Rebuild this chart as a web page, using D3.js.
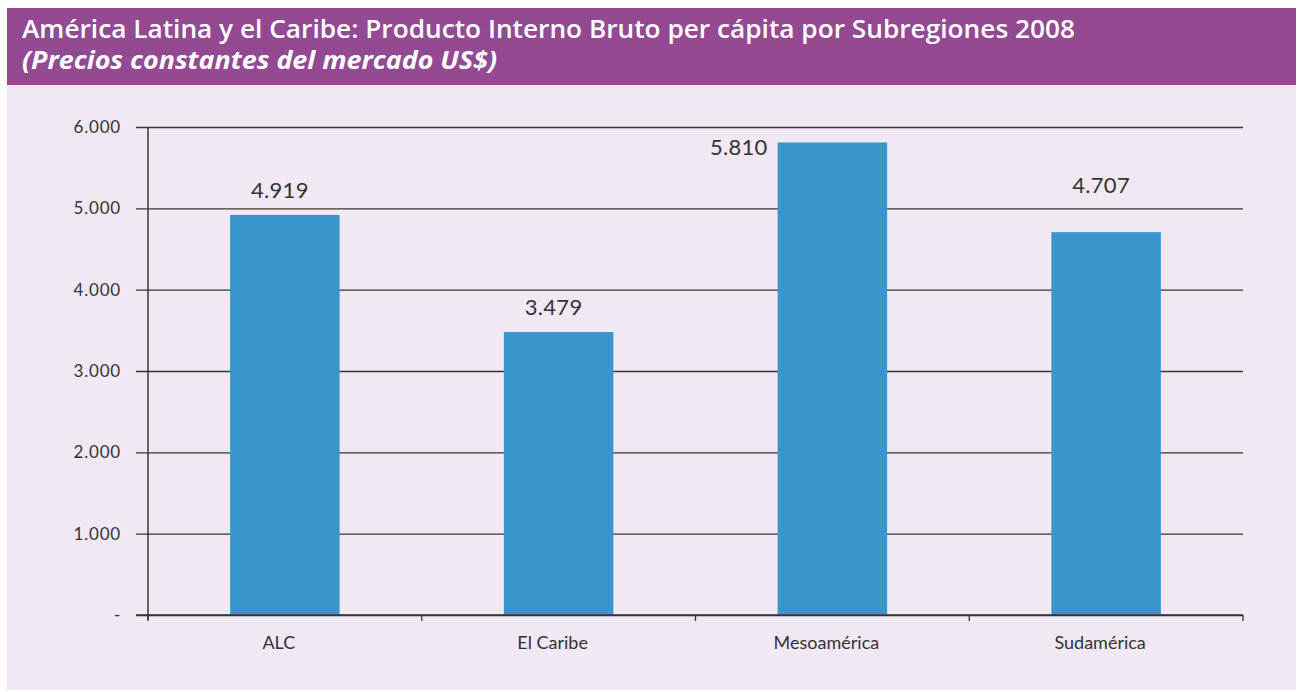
<!DOCTYPE html>
<html><head><meta charset="utf-8">
<script src="https://cdn.jsdelivr.net/npm/d3@7"></script>
<style>body{margin:0;background:#fff}svg{display:block}</style>
</head><body>
<svg id="c" width="1304" height="692"></svg>
<script>
const categories = ["ALC", "El Caribe", "Mesoamérica", "Sudamérica"];
const values = [4919, 3479, 5810, 4707];
const valueLabels = ["4.919", "3.479", "5.810", "4.707"];
const yTicks = [0, 1000, 2000, 3000, 4000, 5000, 6000];
const yTickLabels = ["-", "1.000", "2.000", "3.000", "4.000", "5.000", "6.000"];
const title = "América Latina y el Caribe: Producto Interno Bruto per cápita por Subregiones 2008";
const subtitle = "(Precios constantes del mercado US$)";

const svg = d3.select("#c");
svg.append("rect").attr("x", 7).attr("y", 84).attr("width", 1289).attr("height", 606).attr("fill", "#F0E9F4");
svg.append("rect").attr("x", 7).attr("y", 8).attr("width", 1289).attr("height", 77).attr("fill", "#934A93");
const tFont = "'Open Sans', sans-serif";
svg.append("text").attr("x", 22).attr("y", 38).attr("fill", "#fff")
  .attr("textLength", 1053).attr("lengthAdjust", "spacingAndGlyphs")
  .style("font-family", tFont).style("font-size", "25px").style("font-weight", "600")
  .text(title);
svg.append("text").attr("x", 22).attr("y", 69).attr("fill", "#fff")
  .attr("textLength", 475).attr("lengthAdjust", "spacingAndGlyphs")
  .style("font-family", tFont).style("font-size", "25px").style("font-weight", "bold").style("font-style", "italic")
  .text(subtitle);

const x0 = 148, x1 = 1243, yTop = 127, yBot = 615;
const x = d3.scaleBand().domain(categories).range([x0, x1]).paddingInner(0.6).paddingOuter(0.3);
const y = d3.scaleLinear().domain([0, 6000]).range([yBot, yTop]);
const stroke = "#3a3535";
const font = "'Lato', 'Open Sans', sans-serif";

// gridlines
const yAxis = d3.axisLeft(y).tickValues(yTicks).tickSize(-(x1 - x0)).tickFormat((d, i) => yTickLabels[i]);
const gy = svg.append("g").attr("transform", `translate(${x0},0)`).call(yAxis);
gy.select(".domain").remove();
gy.selectAll(".tick line").attr("x1", -12).attr("stroke", stroke).attr("stroke-width", 1.3);
gy.selectAll(".tick text").attr("x", -27).attr("fill", "#333").style("font-family", font)
  .style("font-size", "17px").style("letter-spacing", "0.8px");

// bars
svg.append("g").selectAll("rect").data(categories).join("rect")
  .attr("x", d => x(d)).attr("width", x.bandwidth())
  .attr("y", (d, i) => y(values[i])).attr("height", (d, i) => yBot - y(values[i]))
  .attr("fill", "#3896CC");

// y axis line
svg.append("line").attr("x1", x0).attr("x2", x0).attr("y1", yTop).attr("y2", yBot + 5).attr("stroke", stroke).attr("stroke-width", 1.5);
// baseline
svg.append("line").attr("x1", x0 - 12).attr("x2", x1).attr("y1", yBot).attr("y2", yBot).attr("stroke", stroke).attr("stroke-width", 1.5);

// x ticks at band boundaries
const step = (x1 - x0) / categories.length;
const bounds = d3.range(categories.length + 1).map(i => x0 + i * step);
svg.append("g").selectAll("line").data(bounds).join("line")
  .attr("x1", d => d).attr("x2", d => d).attr("y1", yBot).attr("y2", yBot + 6)
  .attr("stroke", stroke).attr("stroke-width", 1.3);

// x labels
svg.append("g").selectAll("text").data(categories).join("text")
  .attr("x", d => x(d) + x.bandwidth() / 2 - 6).attr("y", 649).attr("text-anchor", "middle")
  .attr("fill", "#333").style("font-family", font).style("font-size", "18px").text(d => d);

// value labels
svg.append("g").selectAll("text").data(categories).join("text")
  .attr("x", (d, i) => i === 2 ? x(d) - 10 : x(d) + x.bandwidth() / 2 - 5)
  .attr("y", (d, i) => i === 2 ? y(values[i]) + 13 : (i === 3 ? y(values[i]) - 39 : y(values[i]) - 17))
  .attr("text-anchor", (d, i) => i === 2 ? "end" : "middle")
  .attr("fill", "#333").style("font-family", font).style("font-size", "22px").style("letter-spacing", "0.3px")
  .text((d, i) => valueLabels[i]);
</script>
</body></html>
